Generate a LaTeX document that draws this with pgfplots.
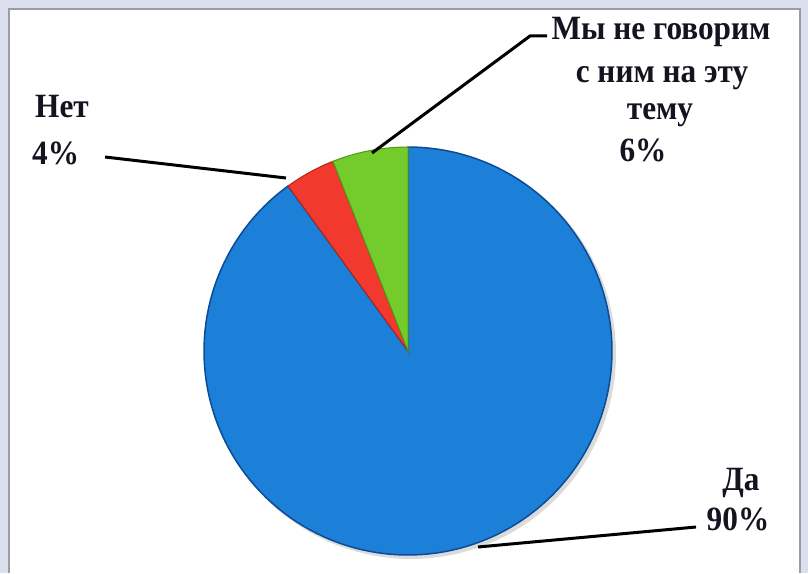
\documentclass[border=0pt]{standalone}
\usepackage{pgfplots}
\pgfplotsset{compat=1.18}
\usepackage{fontspec}
\setmainfont{Liberation Serif}
\definecolor{frameout}{HTML}{DCDFEE}
\definecolor{frameline}{HTML}{9C9CA4}
\definecolor{pblue}{HTML}{1C7FD8}
\definecolor{pblueedge}{HTML}{0C4C96}
\definecolor{pred}{HTML}{F2392E}
\definecolor{prededge}{HTML}{B8231A}
\definecolor{pgreen}{HTML}{74CC2C}
\definecolor{pgreenedge}{HTML}{4E9A18}
\definecolor{txt}{HTML}{141420}
% slice values (percent)
\def\vDa{90}
\def\vNet{4}
\def\vNe{6}
\begin{document}
\begin{tikzpicture}
\begin{axis}[scale only axis, width=808pt, height=573pt,
  xmin=0, xmax=808, ymin=0, ymax=573, hide axis, clip=false]
% frame
\fill[frameout] (axis cs:0,0) rectangle (axis cs:808,573);
\fill[white] (axis cs:9,0) rectangle (axis cs:800,564);
\draw[frameline, line width=1.5pt] (axis cs:9,0) -- (axis cs:9,564) -- (axis cs:800,564) -- (axis cs:800,0);
% shadow
\addplot[draw=none, fill=black!14, domain=0:360, samples=120] ({411+205*cos(x)},{219+205*sin(x)});
% angles from values
\pgfmathsetmacro{\aA}{90}
\pgfmathsetmacro{\aB}{90+3.6*\vNe}
\pgfmathsetmacro{\aC}{\aB+3.6*\vNet}
\pgfmathsetmacro{\aD}{\aC+3.6*\vDa}
% Да
\addplot[draw=pblueedge, fill=pblue, line width=1.5pt, domain=\aC:\aD, samples=150] ({408+204*cos(x)},{222+204*sin(x)}) -- (axis cs:408,222) -- cycle;
% Нет
\addplot[draw=prededge, fill=pred, line width=1pt, domain=\aB:\aC, samples=10] ({408+204*cos(x)},{222+204*sin(x)}) -- (axis cs:408,222) -- cycle;
% Мы не говорим
\addplot[draw=pgreenedge, fill=pgreen, line width=1pt, domain=\aA:\aB, samples=10] ({408+204*cos(x)},{222+204*sin(x)}) -- (axis cs:408,222) -- cycle;
% leader lines
\draw[black, line width=3pt] (axis cs:372,420) -- (axis cs:530,537) -- (axis cs:547,537);
\draw[black, line width=3pt] (axis cs:286,395) -- (axis cs:105,416);
\draw[black, line width=3pt] (axis cs:478,26) -- (axis cs:696,46);
% labels
\tikzset{lbl/.style={font=\fontsize{34}{38}\selectfont\bfseries, text=txt, inner sep=0pt, xscale=0.92}}
\node[lbl, anchor=base west] at (axis cs:35,455) {Нет};
\node[lbl, anchor=base west] at (axis cs:32,408) {4\%};
\node[lbl, anchor=base] at (axis cs:661,533) {Мы не говорим};
\node[lbl, anchor=base] at (axis cs:662,490) {с ним на эту};
\node[lbl, anchor=base] at (axis cs:660,453) {тему};
\node[lbl, anchor=base] at (axis cs:643,411) {6\%};
\node[lbl, anchor=base] at (axis cs:741,83) {Да};
\node[lbl, anchor=base] at (axis cs:738,43) {90\%};
\end{axis}
\end{tikzpicture}
\end{document}
